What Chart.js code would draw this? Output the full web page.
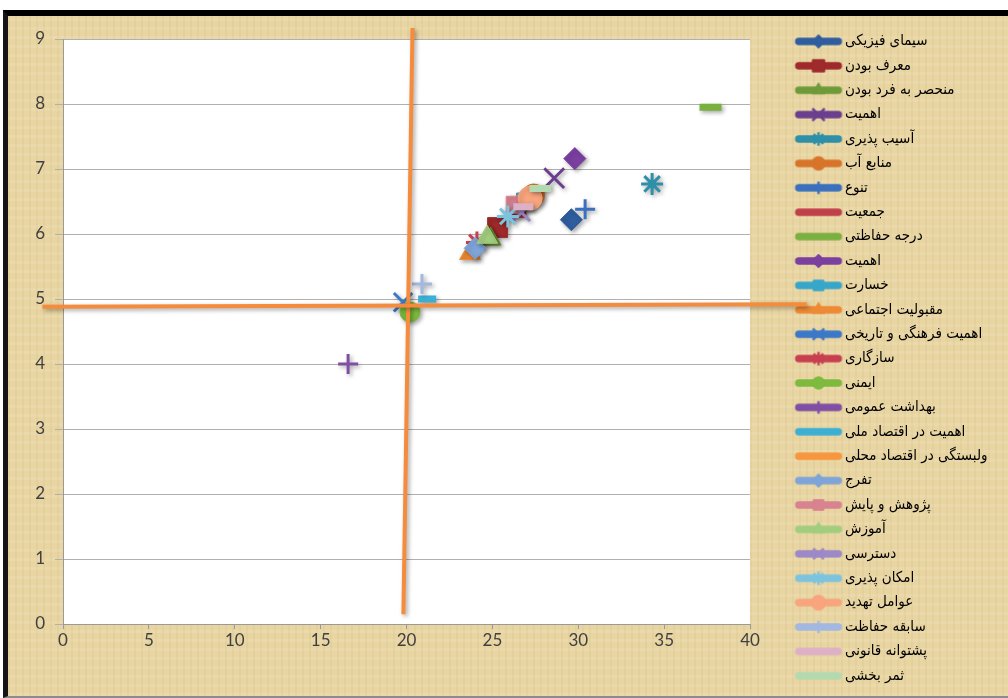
<!DOCTYPE html>
<html>
<head>
<meta charset="utf-8">
<script src="https://cdn.jsdelivr.net/npm/chart.js@4.4.1/dist/chart.umd.min.js"></script>
<style>
  html, body { margin: 0; padding: 0; background: #fff; }
  #frame {
    position: absolute; left: 3px; top: 10px;
    width: 1000px; height: 680px;
    border-top: 6px solid #000;
    border-left: 5px solid #151515;
    border-bottom: 2px solid #8c8c8c;
    background-color: #e8d5a2;
    background-image:
      repeating-linear-gradient(90deg, rgba(160,120,50,0.06) 0 2px, transparent 2px 7px),
      repeating-linear-gradient(0deg, rgba(255,255,255,0.10) 0 3px, transparent 3px 9px);
  }
  #frame canvas { display: block; }
</style>
</head>
<body>
<div id="frame"><canvas id="chart" width="1000" height="680"></canvas></div>
<script>
// series labels (legend order)
const seriesNames = [
  'سیمای فیزیکی', 'معرف بودن', 'منحصر به فرد بودن', 'اهمیت', 'آسیب پذیری',
  'منابع آب', 'تنوع', 'جمعیت', 'درجه حفاظتی', 'اهمیت',
  'خسارت', 'مقبولیت اجتماعی', 'اهمیت فرهنگی و تاریخی', 'سازگاری', 'ایمنی',
  'بهداشت عمومی', 'اهمیت در اقتصاد ملی', 'ولبستگی در اقتصاد محلی', 'تفرج', 'پژوهش و پایش',
  'آموزش', 'دسترسی', 'امکان پذیری', 'عوامل تهدید', 'سابقه حفاظت',
  'پشتوانه قانونی', 'ثمر بخشی'
];
// one point per series
const xValues = [29.6, 25.3, 24.9, 28.6, 34.3, 27.4, 30.4, 26.4, 37.7, 29.8,
                 26.9, 23.7, 19.8, 24.1, 20.2, 16.6, 21.2, 27.0, 24.0, 26.3,
                 24.7, 26.7, 25.9, 27.2, 20.9, 26.8, 27.8];
const yValues = [6.22, 6.10, 5.92, 6.86, 6.77, 6.60, 6.38, 6.30, 7.95, 7.16,
                 6.50, 5.70, 4.95, 5.87, 4.80, 4.00, 5.00, 6.55, 5.78, 6.45,
                 5.95, 6.33, 6.27, 6.55, 5.23, 6.42, 6.70];
const seriesColors = [
  '#2f5d9e', '#9e2a2b', '#6e9a3a', '#6b3f8e', '#2e8fa8',
  '#d8742a', '#3a70be', '#c0404a', '#7ab040', '#7b3fa0',
  '#38a6c8', '#ee8a35', '#3c78c8', '#c84050', '#7dba3e',
  '#7f4fa6', '#3cb0d4', '#f7963e', '#7ea4d8', '#d98290',
  '#a2cd7e', '#9d89c6', '#7cc4de', '#f8a47c', '#a3b8e0',
  '#ddb0c6', '#b3d9b0'
];
const markerStyles = [
  'rectRot', 'rect', 'triangle', 'crossRot', 'star', 'circle', 'cross', 'line', 'line',
  'rectRot', 'rect', 'triangle', 'crossRot', 'star', 'circle', 'cross', 'line', 'line',
  'rectRot', 'rect', 'triangle', 'crossRot', 'star', 'circle', 'cross', 'line', 'line'
];
const markerSizes = [11, 14, 12, 14, 11, 11, 10, 10, 11,
                     11, 12, 12, 13, 11, 10, 10, 9, 10,
                     11, 12, 12, 12, 11, 12, 10, 10, 11];

// the two orange guide lines
const hLineX = [-1.2, 43.3];
const hLineY = [4.88, 4.92];
const vLineX = [20.35, 19.82];
const vLineY = [9.17, 0.15];

const xTickMax = 40, xStep = 5;
const yTickMax = 9, yStep = 1;

const W = 1000;
const AREA = { left: 55, right: 742, top: 23, bottom: 608 };
// legend swatch geometry: box width, image width, line start/end inside the image
const BOX_W = 78, IMG_W = 90, LINE_A = 41.6, LINE_B = 88.6;
const LEGEND_FONT = { family: "'DejaVu Sans Condensed', 'DejaVu Sans'", size: 15 };
const LEGEND_PAD = 9.4;

function strokeOnly(style) {
  return style === 'cross' || style === 'crossRot' || style === 'star' || style === 'line';
}

// legend swatch: thick rounded line with the marker in its middle
function makeLegendIcon(i) {
  const c = document.createElement('canvas');
  c.width = IMG_W; c.height = 22;
  const g = c.getContext('2d');
  g.strokeStyle = seriesColors[i];
  g.lineWidth = 7.5;
  g.lineCap = 'round';
  g.beginPath();
  g.moveTo(LINE_A + 3.75, 11);
  g.lineTo(LINE_B - 3.75, 11);
  g.stroke();
  g.fillStyle = seriesColors[i];
  g.strokeStyle = seriesColors[i];
  const st = markerStyles[i];
  if (st !== 'line' && Chart.helpers && Chart.helpers.drawPoint) {
    const bw = strokeOnly(st) ? 2.5 : 1;
    g.lineWidth = bw;
    g.lineCap = 'butt';
    Chart.helpers.drawPoint(g, { pointStyle: st, radius: markerSizes[i] * 0.62, borderWidth: bw, rotation: 0 },
      (LINE_A + LINE_B) / 2, 11);
  }
  return c;
}

const legendIcons = seriesNames.map((n, i) => makeLegendIcon(i));

const datasets = seriesNames.map((name, i) => ({
  label: name,
  data: [{ x: xValues[i], y: yValues[i] }],
  pointStyle: markerStyles[i],
  pointRadius: markerSizes[i],
  pointHoverRadius: markerSizes[i],
  backgroundColor: seriesColors[i],
  borderColor: seriesColors[i],
  pointBorderWidth: markerStyles[i] === 'line' ? 7 : (strokeOnly(markerStyles[i]) ? 3 : 1),
  showLine: false,
  order: seriesNames.length - i
}));

datasets.push({
  label: '_h',
  data: hLineX.map((x, k) => ({ x: x, y: hLineY[k] })),
  showLine: true,
  borderColor: '#f58b3c',
  borderWidth: 4,
  pointRadius: 0,
  clip: false,
  order: -1
});
datasets.push({
  label: '_v',
  data: vLineX.map((x, k) => ({ x: x, y: vLineY[k] })),
  showLine: true,
  borderColor: '#f58b3c',
  borderWidth: 4,
  pointRadius: 0,
  clip: false,
  order: -1
});

const plotBackground = {
  id: 'plotBackground',
  beforeDraw(chart) {
    const { ctx, chartArea } = chart;
    ctx.save();
    ctx.fillStyle = '#ffffff';
    ctx.fillRect(chartArea.left, chartArea.top, chartArea.right - chartArea.left, chartArea.bottom - chartArea.top);
    ctx.restore();
  }
};

const markerShadow = {
  id: 'markerShadow',
  beforeDatasetsDraw(chart) {
    const c = chart.ctx;
    c.save();
    c.shadowColor = 'rgba(0,0,0,0.35)';
    c.shadowBlur = 4;
    c.shadowOffsetX = 2;
    c.shadowOffsetY = 2;
  },
  afterDatasetsDraw(chart) {
    chart.ctx.restore();
  }
};

const chart = new Chart(document.getElementById('chart'), {
  type: 'scatter',
  data: { datasets: datasets },
  plugins: [plotBackground, markerShadow],
  options: {
    responsive: false,
    animation: false,
    events: [],
    layout: { padding: { top: 8.5, left: 0, bottom: 0, right: 0 } },
    plugins: {
      tooltip: { enabled: false },
      legend: {
        position: 'right',
        align: 'start',
        maxWidth: W - AREA.right,
        labels: {
          usePointStyle: true,
          pointStyleWidth: BOX_W,
          boxHeight: 15,
          padding: LEGEND_PAD,
          color: '#111111',
          font: LEGEND_FONT,
          generateLabels: () => seriesNames.map((name, i) => ({
            text: name,
            pointStyle: legendIcons[i],
            fillStyle: seriesColors[i],
            strokeStyle: seriesColors[i],
            lineWidth: 0,
            hidden: false,
            datasetIndex: i
          }))
        }
      }
    },
    scales: {
      x: {
        type: 'linear',
        min: 0,
        max: xTickMax,
        afterFit(scale) { scale.height = 680 - AREA.bottom; },
        ticks: { stepSize: xStep, color: '#404040', padding: 1, font: { family: 'Lato', size: 17 } },
        grid: { drawOnChartArea: false, drawTicks: true, tickLength: 5, color: '#9a9a9a' },
        border: { color: '#9a9a9a', width: 1 }
      },
      y: {
        type: 'linear',
        min: 0,
        max: yTickMax,
        afterFit(scale) { scale.width = AREA.left; scale.paddingTop = AREA.top; },
        ticks: { stepSize: yStep, color: '#404040', padding: 10, font: { family: 'Lato', size: 17 } },
        grid: { color: '#b0b0b0', lineWidth: 1, tickLength: 8 },
        border: { color: '#9a9a9a', width: 1 }
      }
    }
  }
});

// pull the legend in so the plot ends where the reference's does
const excess = chart.chartArea.right - AREA.right;
if (excess > 0) {
  chart.options.layout.padding.right = excess;
  chart.update();
}
</script>
</body>
</html>
